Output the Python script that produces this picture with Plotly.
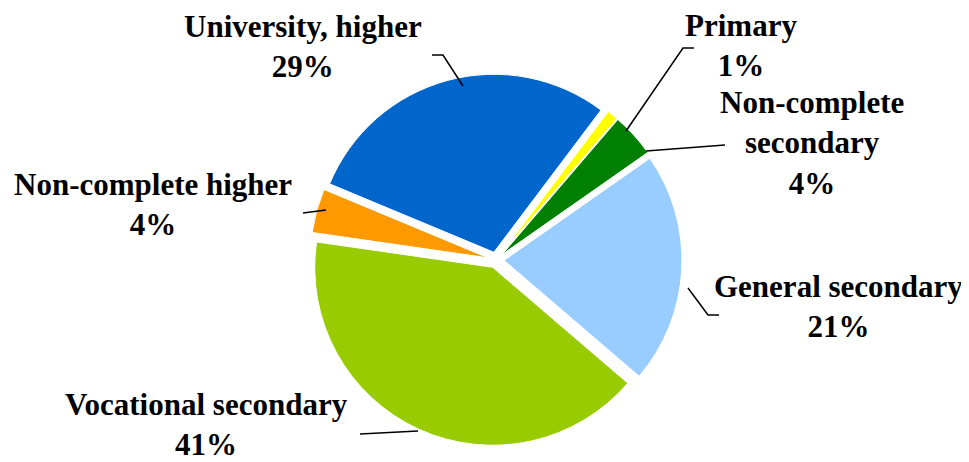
import plotly.graph_objects as go

# ---- data ----
categories = ["Primary", "Non-complete secondary", "General secondary",
              "Vocational secondary", "Non-complete higher", "University, higher"]
shares = [1, 4, 21, 41, 4, 29]
label_names = ["Primary", "Non-complete<br>secondary", "General secondary",
               "Vocational secondary", "Non-complete higher", "University, higher"]

# ---- style ----
colors = ["#FFFF00", "#008000", "#99CCFF", "#99CC00", "#FF9900", "#0066CC"]
W, H = 969, 462
FONT = "Liberation Serif, Times New Roman, serif"

# label centres (pixels) and leader-line paths (pixels)
label_pos = [(733, 37), (804, 135), (830, 298), (198, 416), (145, 196), (295, 39)]
leader_paths = [
    [(618, 123), (675, 40), (686, 40)],
    [(638, 143), (717, 137)],
    [(680, 280), (700, 307), (711, 307)],
    [(410, 423), (352, 426)],
    [(318, 202), (295, 205)],
    [(455, 78), (435, 47), (424, 47)],
]


def px(x, y):
    return x / W, 1 - y / H


fig = go.Figure(go.Pie(
    labels=categories,
    values=shares,
    sort=False,
    direction="clockwise",
    rotation=37,
    pull=[0.045] * len(shares),
    marker=dict(colors=colors, line=dict(color="white", width=1)),
    textinfo="none",
    hoverinfo="label+percent",
    domain=dict(x=[302 / W, 674 / W], y=[24 / H, 396 / H]),
    showlegend=False,
))

for name, v, (lx, ly) in zip(label_names, shares, label_pos):
    x, y = px(lx, ly)
    fig.add_annotation(
        x=x, y=y, xref="paper", yref="paper",
        text=f"<b>{name}<br>{v}%</b>", showarrow=False,
        xanchor="center", yanchor="middle", align="center",
        borderpad=0,
        font=dict(family=FONT, size=31, color="black"),
    )

for path in leader_paths:
    pts = [px(a, b) for a, b in path]
    d = "M " + " L ".join(f"{a},{b}" for a, b in pts)
    fig.add_shape(type="path", path=d, xref="paper", yref="paper",
                  line=dict(color="black", width=1.5))

fig.update_layout(
    width=W, height=H,
    margin=dict(l=0, r=0, t=0, b=0),
    paper_bgcolor="white", plot_bgcolor="white",
    font=dict(family=FONT),
)

fig.write_html("out.html")
